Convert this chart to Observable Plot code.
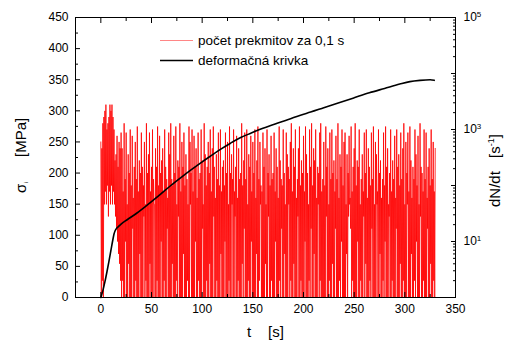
<!DOCTYPE html>
<html><head><meta charset="utf-8">
<script src="https://cdn.jsdelivr.net/npm/d3@7"></script>
<script src="https://cdn.jsdelivr.net/npm/@observablehq/plot@0.6"></script>
<style>
body{margin:0;background:#fff}
#chart svg{display:block}
</style>
</head><body><div id="chart"></div>
<script>
// ---- data ----
// red series: počet prekmitov (dN/dt, s^-1)
// local maxima at t = 0,1,2,... s and local minima at t = 0.5,1.5,... s
const redPeaks = [
600,460,1290,1670,2150,2780,1000,1290,1670,2780,2150,2780,1670,1000,280,360,770,215,600,460,880,
460,78,1290,130,880,46,360,167,1000,100,
770,60,215,600,130,1130,78,280,167,880,
215,100,600,46,1290,167,360,880,78,215,
1000,130,46,460,215,1130,100,770,167,280,
460,78,1000,215,130,60,880,360,1290,130,
100,770,167,1130,46,280,215,1290,78,600,
215,880,100,360,130,46,1130,600,167,1000,
78,770,215,460,60,880,130,167,1000,280,
46,1290,360,100,215,600,167,1000,78,460,
1130,215,60,360,130,880,100,1000,78,215,
280,100,880,167,600,46,1130,167,360,130,
1000,78,215,770,60,460,130,167,1290,100,
280,880,130,1000,46,360,215,770,78,600,
167,1000,60,280,1130,130,600,100,78,880,
215,460,46,1000,167,360,100,770,130,167,
880,78,460,215,60,1130,280,130,100,1000,
167,46,880,360,215,130,600,1290,78,460,
215,1000,60,130,460,1130,100,280,167,770,
78,1130,360,167,46,1000,215,1290,100,460,
280,1000,60,215,167,880,1290,78,130,600,
100,1130,215,460,46,880,130,1000,167,280,
78,770,130,1290,60,360,215,1000,100,600,
880,46,360,167,770,60,1130,78,215,460,
1290,100,280,215,1000,46,130,360,78,880,
167,1000,60,460,215,100,880,130,1130,46,
600,360,78,1000,167,280,60,130,880,100,
1130,215,460,46,167,1000,78,280,130,770,
60,1000,215,360,100,880,130,460,1290,46,
600,167,880,78,1130,280,60,215,130,1000,
360,100,770,46,1290,215,167,78,1000,130,
880,60,215,460,100,1000,130,600,78,460
];
const redLows = [
1,2,1,46,78,46,100,28,78,46,100,46,78,46,28,17,10,6,4,2,
1,2,1,1,10,1,1,4,1,1,
1,17,1,1,2,1,1,1,6,1,
1,1,28,1,2,1,1,1,4,1,
1,1,46,1,1,2,1,1,1,10,
1,1,2,1,1,17,1,1,1,1,
4,1,1,1,2,1,28,1,1,1,
1,6,1,1,1,2,1,1,46,1,
1,1,1,10,1,1,2,1,1,1,
17,1,1,1,2,1,1,4,1,1,
1,28,1,1,2,1,1,1,6,1,
1,1,10,1,1,1,2,1,1,46,
1,1,28,1,1,2,1,1,1,4,
1,17,1,1,1,2,1,1,10,1,
1,1,1,6,1,1,2,46,1,1,
1,1,4,1,1,28,1,1,2,1,
1,1,10,1,1,1,2,1,17,1,
1,6,1,1,1,46,1,2,1,1,
4,1,1,1,28,1,1,2,1,1,
1,10,1,1,1,2,1,17,1,1,
6,1,1,1,46,1,2,1,1,1,
1,1,28,1,1,2,1,1,4,1,
1,17,1,1,1,2,1,10,1,1,
1,1,6,1,28,46,17,1,2,1,
1,1,1,10,1,1,2,1,1,28,
1,4,1,1,1,2,1,17,1,1,
1,1,46,1,1,6,1,1,2,1,
10,1,1,1,28,1,1,2,1,1,
1,17,1,1,1,4,1,1,2,1,
1,1,46,1,1,1,6,1,1,2,
1,10,1,1,1,28,1,1,2,1,
1,1,17,1,1,4,1,1,2,1
];
// black series: deformačná krivka (σi, MPa)
const curveT =     [0,2,4,6,8,10,12,13,14,16,18,20,26,35,43,50,59,69,80,89,100,108,118,128,138,148,160,172,185,197,207,220,235,250,265,280,295,305,315,325,329];
const curveSigma = [0,11,25,41,58,76,94,102,107,112,115,118,125,135,145,154,166,180,194,205,218,227,238,248,257,264,272,279,286,293,298,305,313,321,329,336,343,347,349,350,349];

// axes
const xDomain = [-25, 350];
const xTicks = [0,50,100,150,200,250,300,350];
const xMinor = [25,75,125,175,225,275,325];
const yDomain = [0, 450];
const yTicks = [0,50,100,150,200,250,300,350,400,450];
const yMinor = [25,75,125,175,225,275,325,375,425];
const rateDecades = [0,1,2,3,4,5];        // right log axis 10^0 .. 10^5
const rateLabelExp = [1,3,5];
const legendLabels = ["počet prekmitov za 0,1 s", "deformačná krivka"];
const legendColors = ["#ff0000", "#000000"];

// ---- helpers ----
const decadeSpan = rateDecades[rateDecades.length-1] - rateDecades[0];
const toLeft = v => yDomain[1] * (Math.log10(v) - rateDecades[0]) / decadeSpan;

const redData = [];
redPeaks.forEach((n, k) => {
  redData.push({t: k, n});
  if (k < redLows.length) redData.push({t: k + 0.5, n: redLows[k]});
});
const curveData = curveT.map((t,i) => ({t, s: curveSigma[i]}));
const rateMajor = rateDecades.map(d => toLeft(10**d));
const rateMinor = [];
for (const d of rateDecades.slice(0,-1)) for (let k=2;k<=9;k++) rateMinor.push(toLeft(k*10**d));
const rateLabelPos = rateLabelExp.map(e => toLeft(10**e));

const empty = () => "";
const chart = Plot.plot({
  width: 508, height: 345,
  marginLeft: 75, marginRight: 53, marginTop: 17, marginBottom: 48,
  style: {fontFamily: "'Liberation Sans', Arial, sans-serif", fontSize: "12px", color: "#000", background: "#fff"},
  x: {domain: xDomain},
  y: {domain: yDomain},
  marks: [
    Plot.line(redData, {x: "t", y: d => toLeft(d.n), stroke: legendColors[0], strokeWidth: 0.8}),
    Plot.line(curveData, {x: "t", y: "s", stroke: legendColors[1], strokeWidth: 1.6, curve: "monotone-x"}),
    Plot.frame({stroke: "#000", strokeWidth: 1}),
    // left axis
    Plot.axisY(yTicks, {anchor: "left", tickSize: 0, tickPadding: 7, label: null}),
    Plot.axisY(yTicks, {anchor: "left", tickSize: -5, tickFormat: empty, label: null}),
    Plot.axisY(yMinor, {anchor: "left", tickSize: -3, tickFormat: empty, label: null}),
    // bottom axis
    Plot.axisX(xTicks, {anchor: "bottom", tickSize: 0, tickPadding: 7, label: null}),
    Plot.axisX(xTicks, {anchor: "bottom", tickSize: -5, tickFormat: empty, label: null}),
    Plot.axisX(xMinor, {anchor: "bottom", tickSize: -3, tickFormat: empty, label: null}),
    // top axis (ticks only)
    Plot.axisX(xTicks, {anchor: "top", tickSize: -5, tickFormat: empty, label: null}),
    Plot.axisX(xMinor, {anchor: "top", tickSize: -3, tickFormat: empty, label: null}),
    // right log axis
    Plot.axisY(rateMajor, {anchor: "right", tickSize: -5, tickFormat: empty, label: null}),
    Plot.axisY(rateMinor, {anchor: "right", tickSize: -3, tickFormat: empty, label: null}),
    Plot.axisY(rateLabelPos, {anchor: "right", tickSize: 0, tickPadding: 8, label: null,
      tickFormat: (d,i) => "10^" + rateLabelExp[i]})
  ]
});
document.getElementById("chart").appendChild(chart);

const svg = d3.select(chart);
// superscripts on right axis labels
svg.selectAll("text").each(function(){
  const s = this.textContent;
  if (s.startsWith("10^")) {
    const el = d3.select(this);
    const exp = s.slice(3);
    el.text("10");
    el.append("tspan").attr("dy", "-0.55em").attr("font-size", "8px").text(exp);
  }
});

const font = "'Liberation Sans', Arial, sans-serif";
const g = svg.append("g").attr("font-family", font).attr("fill", "#000").attr("text-anchor", "start");
// left title
g.append("text").attr("transform", "translate(26,193) rotate(-90)").attr("font-size", 15).text("σ");
g.append("text").attr("transform", "translate(28,183) rotate(-90)").attr("font-size", 6).text("i");
g.append("text").attr("transform", "translate(26,157) rotate(-90)").attr("font-size", 15).text("[MPa]");
// bottom title
g.append("text").attr("x", 247).attr("y", 337).attr("font-size", 15).text("t");
g.append("text").attr("x", 268).attr("y", 337).attr("font-size", 15).text("[s]");
// right title
g.append("text").attr("transform", "translate(500,207) rotate(-90)").attr("font-size", 15).text("dN/dt");
const rt = g.append("text").attr("transform", "translate(500,158) rotate(-90)").attr("font-size", 15);
rt.append("tspan").text("[s");
rt.append("tspan").attr("dy", -6).attr("font-size", 9).text("-1");
rt.append("tspan").attr("dy", 6).text("]");

// legend
const leg = svg.append("g").attr("font-family", font).attr("font-size", 13.5).attr("text-anchor", "start");
legendLabels.forEach((lab, i) => {
  const y = 40.5 + i*20;
  leg.append("line").attr("x1", 160).attr("x2", 193).attr("y1", y).attr("y2", y)
     .attr("stroke", legendColors[i]).attr("stroke-width", i ? 1.6 : 0.8).attr("stroke-opacity", i ? 1 : 0.6);
  leg.append("text").attr("x", 198).attr("y", y + 4.7).text(lab);
});
</script>
</body></html>
